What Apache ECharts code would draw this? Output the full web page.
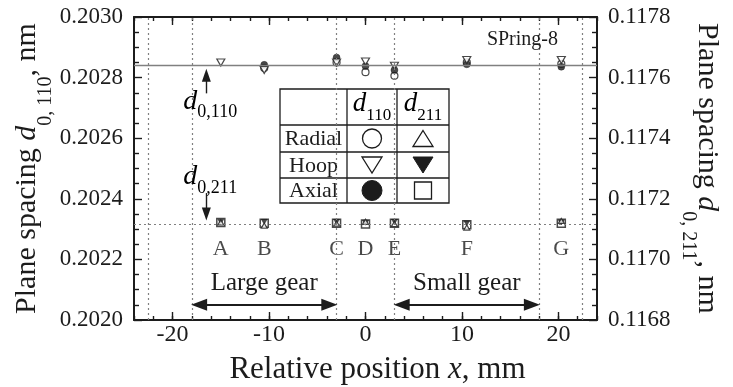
<!DOCTYPE html>
<html>
<head>
<meta charset="utf-8">
<script src="https://cdn.jsdelivr.net/npm/echarts@6/dist/echarts.min.js"></script>
<style>
  html, body { margin: 0; padding: 0; background: #fff; }
  #chart { width: 733px; height: 387px; }
</style>
</head>
<body>
<div id="chart"></div>
<script>
// Measurement positions along the gear pair (mm) and their point names
const positions = [-15, -10.5, -3, 0, 3, 10.5, 20.3];
const pointNames = ['A', 'B', 'C', 'D', 'E', 'F', 'G'];

// d110 plane spacing (nm) — left axis
const d110Radial = [null, 0.202832, 0.202850, 0.202818, 0.202806, 0.202850, 0.202845];
const d110Hoop   = [0.202850, 0.202825, 0.202850, 0.202853, 0.202839, 0.202858, 0.202858];
const d110Axial  = [null, 0.202842, 0.202866, 0.202838, 0.202825, 0.202844, 0.202836];

// d211 plane spacing (nm) — right axis
const d211Radial = [0.117122, 0.117111, 0.117118, 0.117124, 0.117117, 0.117105, 0.117127];
const d211Hoop   = [0.117124, 0.117124, 0.117124, 0.117121, 0.117124, 0.117119, 0.117122];
const d211Axial  = [0.117122, 0.117119, 0.117119, 0.117117, 0.117119, 0.117114, 0.117119];

// Stress-free reference spacings (nm)
const d0_110 = 0.202842;
const d0_211 = 0.117117;

// Specimen boundaries and gear extents (mm)
const boundaries = [-22.5, -18, -3, 3, 18, 22.5];
const largeGear = [-18, -3];
const smallGear = [3, 18];

// Axis ticks
const xRange = [-24, 24];
const xMajorTicks = [-20, -10, 0, 10, 20];
const yLeftRange = [0.2020, 0.2030];
const yRightRange = [0.1168, 0.1178];

// Legend table rows
const tableRows = ['Radial', 'Hoop', 'Axial'];

// ---------------------------------------------------------------------------
const SERIF = '"Liberation Serif", "DejaVu Serif", serif';
const INK = '#1c1c1c';
const GUIDE = '#808080';

const chart = echarts.init(document.getElementById('chart'), null, { renderer: 'canvas' });

const pairs = vals => positions.map((x, i) => vals[i] == null ? null : [x, vals[i]]).filter(Boolean);

const tickLine = { color: INK, width: 1.4 };

function xMinorAxis(position, withLabels) {
  const ax = {
    type: 'value', position, min: xRange[0], max: xRange[1], interval: 2,
    axisLine: { show: true, onZero: false, lineStyle: { color: INK, width: 2 } },
    axisTick: { show: true, inside: true, length: 4, lineStyle: tickLine },
    axisLabel: { show: false },
    splitLine: { show: false }
  };
  if (withLabels) {
    ax.axisLabel = {
      show: true, margin: 3, fontFamily: SERIF, fontSize: 24, color: INK,
      showMinLabel: true, showMaxLabel: true,
      formatter: v => (Math.round(v) % 10 === 0 ? String(Math.round(v)) : '')
    };
    ax.name = '{t|Relative position }{i|x}{t|, mm}';
    ax.nameLocation = 'middle';
    ax.nameGap = 34;
    ax.nameMoveOverlap = false;
    ax.nameTextStyle = {
      color: INK,
      padding: [0, 0, 0, 24],
      rich: {
        t: { fontFamily: SERIF, fontSize: 31, color: INK },
        i: { fontFamily: SERIF, fontSize: 31, fontStyle: 'italic', color: INK }
      }
    };
  }
  return ax;
}

function xMajorAxis(position) {
  return {
    type: 'value', position, min: xRange[0], max: xRange[1], interval: 2,
    axisLine: { show: false, onZero: false },
    axisTick: { show: true, inside: true, length: 8, customValues: xMajorTicks, lineStyle: tickLine },
    axisLabel: { show: false },
    splitLine: { show: false }
  };
}

function titleRich() {
  return {
    t: { fontFamily: SERIF, fontSize: 30, color: INK, lineHeight: 44, verticalAlign: 'top' },
    i: { fontFamily: SERIF, fontSize: 30, fontStyle: 'italic', color: INK, lineHeight: 44, verticalAlign: 'top' },
    s: { fontFamily: SERIF, fontSize: 20, color: INK, verticalAlign: 'bottom' }
  };
}

function yAxisDef(position, range, name, rotate, gap) {
  return {
    type: 'value', position, min: range[0], max: range[1], interval: 0.0002,
    axisLine: { show: true, onZero: false, lineStyle: { color: INK, width: 2 } },
    axisTick: { show: true, inside: true, length: 8, lineStyle: tickLine },
    minorTick: { show: true, splitNumber: 4, length: 5, lineStyle: tickLine },
    minorSplitLine: { show: false },
    splitLine: { show: false },
    axisLabel: { margin: 11, fontFamily: SERIF, fontSize: 23, color: INK, formatter: v => v.toFixed(4) },
    name, nameLocation: 'middle', nameRotate: rotate, nameGap: gap, nameMoveOverlap: false,
    nameTextStyle: { color: INK, rich: titleRich() }
  };
}

const openStyle = { color: '#fff', borderColor: INK, borderWidth: 1.2 };
const filledStyle = { color: INK, borderColor: INK, borderWidth: 0.5 };
const dotted = { type: [2, 3], color: GUIDE, width: 1.2 };

const HEAD_INSET = 0.75;          // keeps arrow tips on the gear boundaries
const GEAR_ARROW_LEVEL = 0.20205; // height of the gear-extent arrows (left axis units)

// full-width horizontal reference line
const hLine = (value, style) => [
  { coord: [xRange[0], value], symbol: 'none', lineStyle: style },
  { coord: [xRange[1], value], symbol: 'none' }
];
// full-height vertical boundary line
const vLine = (x, range, style) => [
  { coord: [x, range[0]], symbol: 'none', lineStyle: style },
  { coord: [x, range[1]], symbol: 'none' }
];

const option = {
  animation: false,
  backgroundColor: '#fff',
  textStyle: { fontFamily: SERIF, color: INK },
  grid: { left: 134, top: 17, right: 136, bottom: 67, containLabel: false, outerBoundsMode: 'none' },
  xAxis: [xMinorAxis('bottom', true), xMajorAxis('bottom'), xMinorAxis('top', false), xMajorAxis('top')],
  yAxis: [
    yAxisDef('left', yLeftRange, '{t|Plane spacing }{i|d}{s|0, 110}{t|, nm}', 90, 78),
    yAxisDef('right', yRightRange, '{t|Plane spacing }{i|d}{s|0, 211}{t|, nm}', -90, 81)
  ],
  series: [
    // guide lines: boundaries and the d0,110 reference
    {
      type: 'line', xAxisIndex: 0, yAxisIndex: 0, data: [], silent: true,
      markLine: {
        silent: true, symbol: ['none', 'none'], label: { show: false }, animation: false,
        data: [
          ...boundaries.map(v => vLine(v, yLeftRange, dotted)),
          hLine(d0_110, { type: 'solid', color: GUIDE, width: 1.3 })
        ]
      }
    },
    // d0,211 reference
    {
      type: 'line', xAxisIndex: 0, yAxisIndex: 1, data: [], silent: true,
      markLine: {
        silent: true, symbol: ['none', 'none'], label: { show: false }, animation: false,
        data: [hLine(d0_211, dotted)]
      }
    },
    // d110 measurements
    { name: 'd110 radial', type: 'scatter', xAxisIndex: 0, yAxisIndex: 0, data: pairs(d110Radial),
      symbol: 'circle', symbolSize: 7, itemStyle: openStyle },
    { name: 'd110 axial', type: 'scatter', xAxisIndex: 0, yAxisIndex: 0, data: pairs(d110Axial),
      symbol: 'circle', symbolSize: 7, itemStyle: filledStyle },
    { name: 'd110 hoop', type: 'scatter', xAxisIndex: 0, yAxisIndex: 0, data: pairs(d110Hoop),
      symbol: 'triangle', symbolRotate: 180, symbolSize: [8, 7], itemStyle: openStyle },
    // d211 measurements
    { name: 'd211 axial', type: 'scatter', xAxisIndex: 0, yAxisIndex: 1, data: pairs(d211Axial),
      symbol: 'rect', symbolSize: 8, itemStyle: { color: '#fff', borderColor: INK, borderWidth: 1.5 } },
    { name: 'd211 hoop', type: 'scatter', xAxisIndex: 0, yAxisIndex: 1, data: pairs(d211Hoop),
      symbol: 'triangle', symbolRotate: 180, symbolSize: [6, 5], itemStyle: filledStyle },
    { name: 'd211 radial', type: 'scatter', xAxisIndex: 0, yAxisIndex: 1, data: pairs(d211Radial),
      symbol: 'triangle', symbolSize: [6, 5], itemStyle: openStyle },
    // point names under the d211 row
    {
      type: 'scatter', xAxisIndex: 0, yAxisIndex: 1, silent: true,
      data: positions.map((x, i) => ({ name: pointNames[i], value: [x, d0_211] })),
      symbolSize: 0.1, itemStyle: { color: 'rgba(0,0,0,0)' },
      label: { show: true, position: 'bottom', distance: 14, formatter: '{b}',
               fontFamily: SERIF, fontSize: 22, color: INK }
    },
    // gear extents and the d0,110 pointer
    {
      type: 'line', xAxisIndex: 0, yAxisIndex: 0, data: [], silent: true,
      markLine: {
        silent: true, animation: false,
        data: [
          [{ name: 'Large gear', coord: [largeGear[0] + HEAD_INSET, GEAR_ARROW_LEVEL], symbol: 'triangle', symbolSize: [12, 16] },
           { coord: [largeGear[1] - HEAD_INSET, GEAR_ARROW_LEVEL], symbol: 'triangle', symbolSize: [12, 16] }],
          [{ name: 'Small gear', coord: [smallGear[0] + HEAD_INSET, GEAR_ARROW_LEVEL], symbol: 'triangle', symbolSize: [12, 16] },
           { coord: [smallGear[1] - HEAD_INSET, GEAR_ARROW_LEVEL], symbol: 'triangle', symbolSize: [12, 16] }],
          [{ name: '', coord: [-16.5, 0.202748], symbol: 'none', label: { show: false },
             lineStyle: { color: INK, width: 1.4, type: 'solid' } },
           { coord: [-16.5, 0.202808], symbol: 'triangle', symbolSize: [9, 13], label: { show: false } }]
        ],
        lineStyle: { color: INK, width: 2, type: 'solid' },
        label: { show: true, position: 'insideMiddleTop', distance: 9, formatter: '{b}',
                 fontFamily: SERIF, fontSize: 25, color: INK }
      }
    },
    // d0,211 pointer
    {
      type: 'line', xAxisIndex: 0, yAxisIndex: 1, data: [], silent: true,
      markLine: {
        silent: true, animation: false, label: { show: false },
        lineStyle: { color: INK, width: 1.4, type: 'solid' },
        data: [
          [{ coord: [-16.5, 0.117219], symbol: 'none' },
           { coord: [-16.5, 0.117150], symbol: 'triangle', symbolSize: [9, 13] }]
        ]
      }
    }
  ]
};

chart.setOption(option);

// ---- annotations: d0 labels, source tag and the symbol table ----
const labelRich = {
  i: { fontFamily: SERIF, fontSize: 28, fontStyle: 'italic', color: INK, lineHeight: 34, verticalAlign: 'top' },
  s: { fontFamily: SERIF, fontSize: 18, color: INK, verticalAlign: 'bottom' }
};
const p110 = chart.convertToPixel({ xAxisIndex: 0, yAxisIndex: 0 }, [-16.5, 0.202748]);
const p211 = chart.convertToPixel({ xAxisIndex: 0, yAxisIndex: 1 }, [-16.5, 0.117219]);

function tableGraphic() {
  const x0 = 280, y0 = 89;
  const cols = [0, 67, 117, 169];
  const rows = [0, 36, 63, 89, 114];
  const els = [];
  els.push({ type: 'rect', shape: { x: 0, y: 0, width: cols[3], height: rows[4] },
             style: { fill: '#fff', stroke: INK, lineWidth: 1.3 } });
  [cols[1], cols[2]].forEach(c => els.push({ type: 'line', shape: { x1: c, y1: 0, x2: c, y2: rows[4] },
             style: { stroke: INK, lineWidth: 1.3 } }));
  [rows[1], rows[2], rows[3]].forEach(r => els.push({ type: 'line', shape: { x1: 0, y1: r, x2: cols[3], y2: r },
             style: { stroke: INK, lineWidth: 1.3 } }));
  const cx = [(cols[0] + cols[1]) / 2, (cols[1] + cols[2]) / 2, (cols[2] + cols[3]) / 2];
  const cy = [(rows[0] + rows[1]) / 2, (rows[1] + rows[2]) / 2, (rows[2] + rows[3]) / 2, (rows[3] + rows[4]) / 2];
  const hdrRich = {
    i: { fontFamily: SERIF, fontSize: 27, fontStyle: 'italic', color: INK, lineHeight: 34, verticalAlign: 'top' },
    s: { fontFamily: SERIF, fontSize: 17, color: INK, verticalAlign: 'bottom' }
  };
  [['110', cx[1]], ['211', cx[2]]].forEach(([sub, x]) => els.push({
    type: 'text', x, y: cy[0],
    style: { text: '{i|d}{s|' + sub + '}', rich: hdrRich, align: 'center', verticalAlign: 'middle',
             textAlign: 'center', textVerticalAlign: 'middle' }
  }));
  tableRows.forEach((t, k) => els.push({
    type: 'text', x: cx[0], y: cy[k + 1] + 1,
    style: { text: t, fontFamily: SERIF, fontSize: 22, fill: INK, align: 'center', verticalAlign: 'middle',
             textAlign: 'center', textVerticalAlign: 'middle' }
  }));
  const open = { fill: '#fff', stroke: INK, lineWidth: 1.3 };
  const solid = { fill: INK, stroke: INK, lineWidth: 1 };
  const w = 10, h = 8;
  // Radial
  els.push({ type: 'circle', shape: { cx: cx[1], cy: cy[1], r: 9.5 }, style: open });
  els.push({ type: 'polygon', shape: { points: [[cx[2], cy[1] - h], [cx[2] + w, cy[1] + h], [cx[2] - w, cy[1] + h]] }, style: open });
  // Hoop
  els.push({ type: 'polygon', shape: { points: [[cx[1] - w, cy[2] - h], [cx[1] + w, cy[2] - h], [cx[1], cy[2] + h]] }, style: open });
  els.push({ type: 'polygon', shape: { points: [[cx[2] - w, cy[2] - h], [cx[2] + w, cy[2] - h], [cx[2], cy[2] + h]] }, style: solid });
  // Axial
  els.push({ type: 'circle', shape: { cx: cx[1], cy: cy[3], r: 10 }, style: solid });
  els.push({ type: 'rect', shape: { x: cx[2] - 8.5, y: cy[3] - 8.5, width: 17, height: 17 }, style: open });
  return { type: 'group', x: x0, y: y0, z: 100, children: els };
}

chart.setOption({
  graphic: [
    { type: 'text', x: p110[0] - 23, y: p110[1] - 6, z: 100,
      style: { text: '{i|d}{s|0,110}', rich: labelRich, align: 'left', verticalAlign: 'top',
               textAlign: 'left', textVerticalAlign: 'top' } },
    { type: 'text', x: p211[0] - 23, y: p211[1] - 30, z: 100,
      style: { text: '{i|d}{s|0,211}', rich: labelRich, align: 'left', verticalAlign: 'top',
               textAlign: 'left', textVerticalAlign: 'top' } },
    { type: 'text', x: 558, y: 40, z: 100,
      style: { text: 'SPring-8', fontFamily: SERIF, fontSize: 20, fill: INK, align: 'right', verticalAlign: 'middle',
               textAlign: 'right', textVerticalAlign: 'middle' } },
    tableGraphic()
  ]
});
</script>
</body>
</html>
